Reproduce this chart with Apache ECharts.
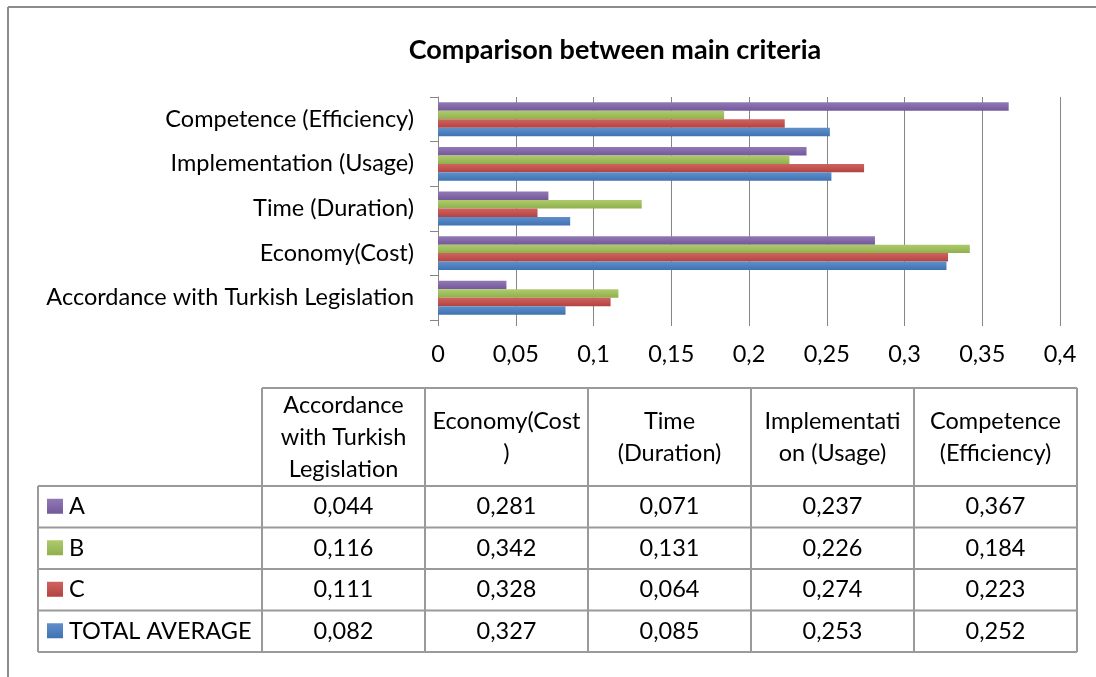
<!DOCTYPE html>
<html>
<head>
<meta charset="utf-8">
<script src="https://cdn.jsdelivr.net/npm/echarts@6/dist/echarts.min.js"></script>
<style>
  html, body { margin: 0; padding: 0; background: #fff; }
  #main { width: 1096px; height: 677px; }
</style>
</head>
<body>
<div id="main"></div>
<script>
// chart data
const categories = ['Accordance with Turkish Legislation', 'Economy(Cost)', 'Time (Duration)', 'Implementation (Usage)', 'Competence (Efficiency)'];
const headerLabels = ['Accordance\nwith Turkish\nLegislation', 'Economy(Cost\n)', 'Time\n(Duration)', 'Implementati\non (Usage)', 'Competence\n(Efficiency)'];
const seriesNames = ['A', 'B', 'C', 'TOTAL AVERAGE'];
const valuesA = [0.044, 0.281, 0.071, 0.237, 0.367];
const valuesB = [0.116, 0.342, 0.131, 0.226, 0.184];
const valuesC = [0.111, 0.328, 0.064, 0.274, 0.223];
const valuesTotal = [0.082, 0.327, 0.085, 0.253, 0.252];
const xMax = 0.4;
const xStep = 0.05;

const colors = {
  'A': ['#9179b5', '#74589a'],
  'B': ['#aecb6c', '#8fb04c'],
  'C': ['#d0625f', '#b24340'],
  'TOTAL AVERAGE': ['#5f90cc', '#3f72b1']
};
const allValues = { 'A': valuesA, 'B': valuesB, 'C': valuesC, 'TOTAL AVERAGE': valuesTotal };

const FONT = 'Lato, "Open Sans", sans-serif';
const FS = 23.5;
const fmt = v => String(+v.toFixed(3)).replace('.', ',');

var chartDom = document.getElementById('main');
var myChart = echarts.init(chartDom);

// first series ends up on top of each band
const series = seriesNames.map(name => ({
  name: name,
  type: 'bar',
  data: allValues[name],
  barGap: '0%',
  barCategoryGap: '24%',
  itemStyle: {
    color: new echarts.graphic.LinearGradient(0, 0, 0, 1, [
      { offset: 0, color: colors[name][0] },
      { offset: 1, color: colors[name][1] }
    ])
  }
}));

// table below the chart
const tbl = { left: 38, nameW: 224, colW: 163, top: 388, headH: 98, rowH: 41.5 };
const tblRight = tbl.left + tbl.nameW + tbl.colW * categories.length;
const tblBottom = tbl.top + tbl.headH + tbl.rowH * seriesNames.length;
const lineStyle = { stroke: '#9a9a9a', lineWidth: 2 };
const gfx = [];

// outer chart border
gfx.push({ type: 'line', shape: { x1: 8, y1: 7, x2: 1096, y2: 7 }, style: { stroke: '#8c8c8c', lineWidth: 2 } });
gfx.push({ type: 'line', shape: { x1: 8, y1: 7, x2: 8, y2: 677 }, style: { stroke: '#8c8c8c', lineWidth: 2 } });

// horizontal lines
gfx.push({ type: 'line', shape: { x1: tbl.left + tbl.nameW, y1: tbl.top, x2: tblRight, y2: tbl.top }, style: lineStyle });
for (let i = 0; i <= seriesNames.length; i++) {
  const y = tbl.top + tbl.headH + tbl.rowH * i;
  gfx.push({ type: 'line', shape: { x1: tbl.left, y1: y, x2: tblRight, y2: y }, style: lineStyle });
}
// vertical lines
gfx.push({ type: 'line', shape: { x1: tbl.left, y1: tbl.top + tbl.headH, x2: tbl.left, y2: tblBottom }, style: lineStyle });
for (let j = 0; j <= categories.length; j++) {
  const x = tbl.left + tbl.nameW + tbl.colW * j;
  gfx.push({ type: 'line', shape: { x1: x, y1: tbl.top, x2: x, y2: tblBottom }, style: lineStyle });
}
// header text
headerLabels.forEach((h, j) => {
  gfx.push({
    type: 'text',
    x: tbl.left + tbl.nameW + tbl.colW * (j + 0.5),
    y: tbl.top + tbl.headH / 2,
    style: { text: h, font: FS + 'px ' + FONT, fill: '#000', align: 'center', verticalAlign: 'middle', lineHeight: 32 }
  });
});
// rows
seriesNames.forEach((name, i) => {
  const cy = tbl.top + tbl.headH + tbl.rowH * (i + 0.5);
  gfx.push({
    type: 'rect',
    shape: { x: tbl.left + 9, y: cy - 8, width: 16, height: 15 },
    style: {
      fill: new echarts.graphic.LinearGradient(0, 0, 0, 1, [
        { offset: 0, color: colors[name][0] },
        { offset: 1, color: colors[name][1] }
      ])
    }
  });
  gfx.push({
    type: 'text', x: tbl.left + 31, y: cy,
    style: { text: name, font: FS + 'px ' + FONT, fill: '#000', align: 'left', verticalAlign: 'middle' }
  });
  allValues[name].forEach((v, j) => {
    gfx.push({
      type: 'text',
      x: tbl.left + tbl.nameW + tbl.colW * (j + 0.5), y: cy,
      style: { text: fmt(v), font: FS + 'px ' + FONT, fill: '#000', align: 'center', verticalAlign: 'middle' }
    });
  });
});

const option = {
  animation: false,
  backgroundColor: '#fff',
  textStyle: { fontFamily: FONT },
  title: {
    text: 'Comparison between main criteria',
    left: 610,
    textAlign: 'center',
    top: 32,
    textStyle: { fontFamily: FONT, fontSize: 27, fontWeight: 'bold', color: '#000' }
  },
  grid: { left: 438, right: 36, top: 97, bottom: 357, containLabel: false },
  xAxis: {
    type: 'value',
    min: 0,
    max: xMax,
    interval: xStep,
    axisLine: { show: false },
    axisTick: { show: true, length: 6, lineStyle: { color: '#868686' } },
    splitLine: { show: true, lineStyle: { color: '#868686', width: 1 } },
    axisLabel: {
      color: '#000', fontSize: FS, fontFamily: FONT, margin: 22,
      formatter: v => fmt(v)
    }
  },
  yAxis: {
    type: 'category',
    data: categories,
    axisLine: { show: true, lineStyle: { color: '#868686', width: 1 } },
    axisTick: { show: true, length: 8, lineStyle: { color: '#868686' } },
    axisLabel: { color: '#000', fontSize: FS, fontFamily: FONT, margin: 24 }
  },
  series: series,
  graphic: gfx
};

myChart.setOption(option);
</script>
</body>
</html>
